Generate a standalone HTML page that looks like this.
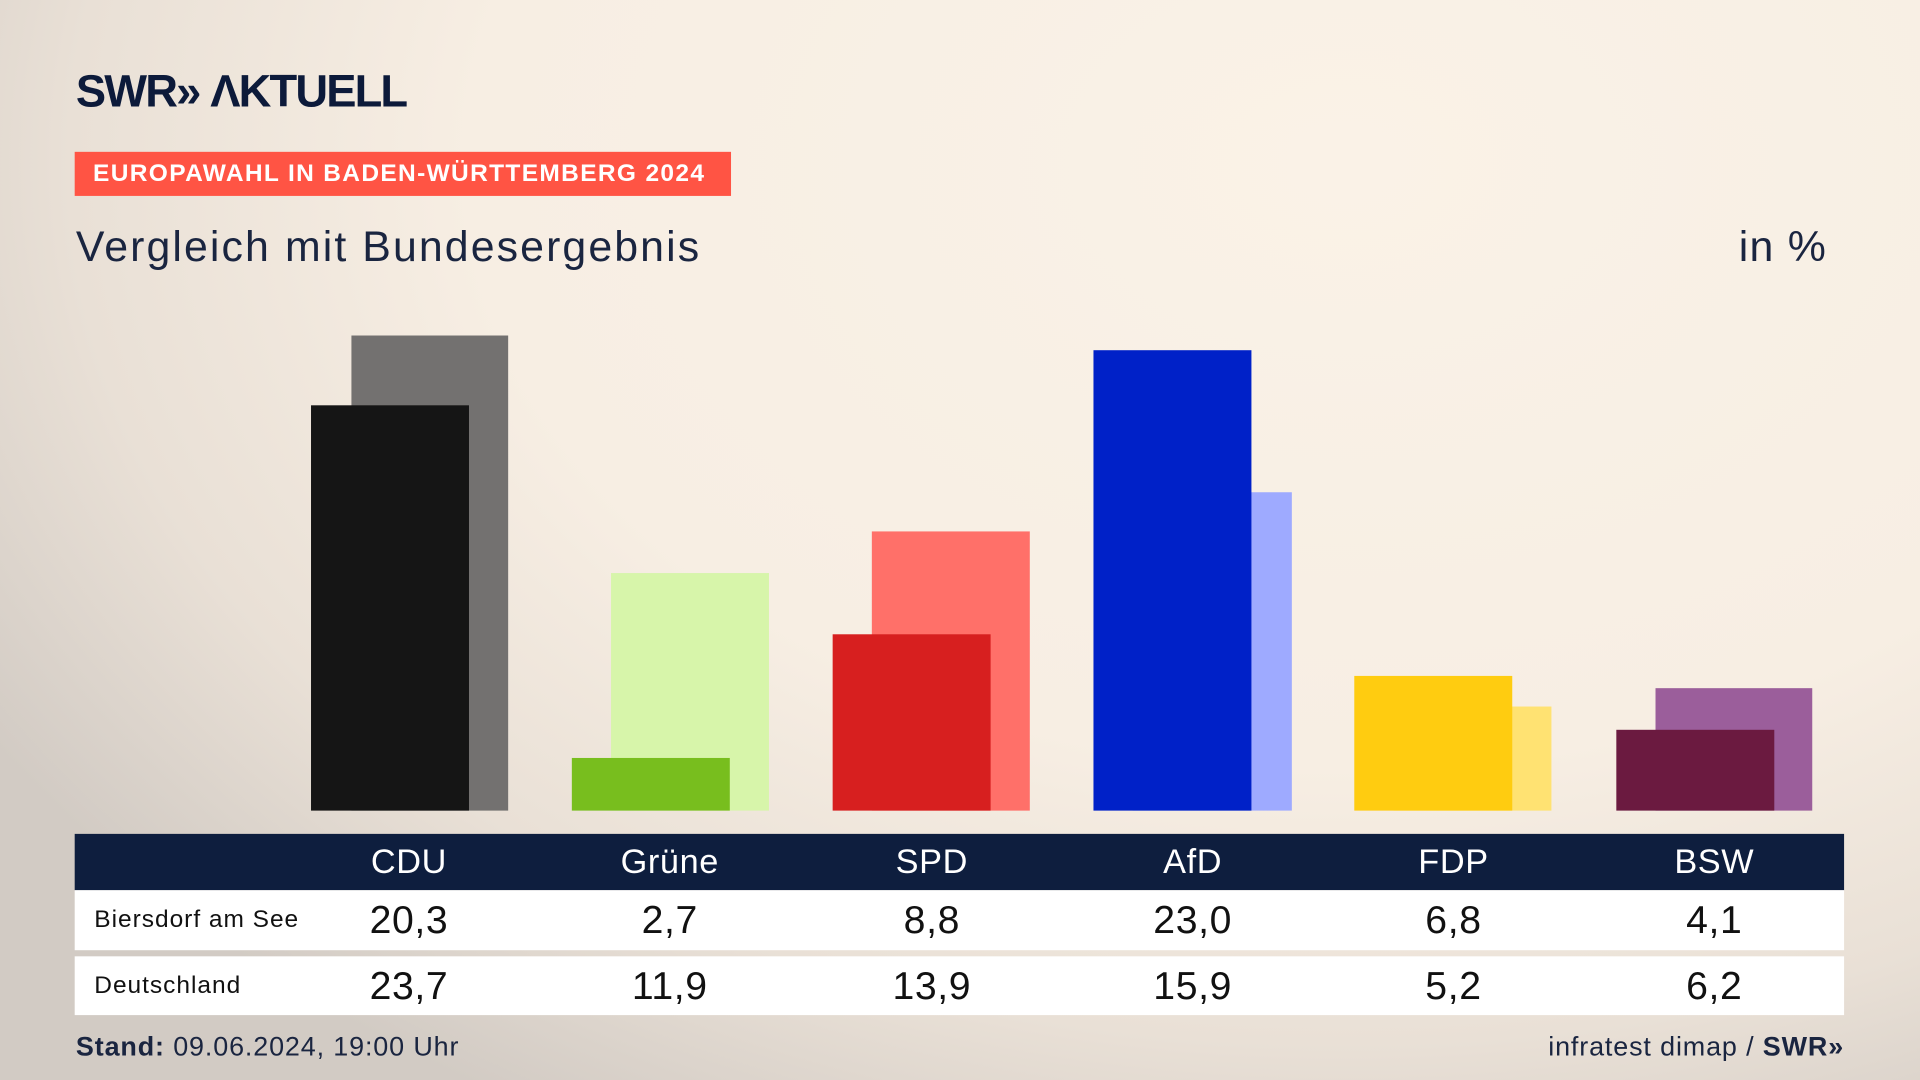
<!DOCTYPE html>
<html><head><meta charset="utf-8"><style>
html,body{margin:0;padding:0;width:1920px;height:1080px;overflow:hidden}
#w{position:absolute;left:0;top:0;width:1568px;height:882px;transform:scale(1.22449);transform-origin:0 0;
background:radial-gradient(ellipse 1300px 900px at 70% 15%,#faf2e7 0%,#f7eee3 55%,#e9e0d6 80%,#d2cbc4 100%);
font-family:"Liberation Sans","DejaVu Sans",sans-serif;color:#0e1e3e}
.a{position:absolute}
.hl{position:absolute;top:681px;height:46px;line-height:46px;color:#fff;font-size:28px;width:200px;text-align:center;letter-spacing:0.5px}
.v{position:absolute;width:200px;text-align:center;font-size:32px;color:#111;letter-spacing:0.5px}
</style></head><body><div id="w">
<div class="a" style="left:62px;top:54px;font-size:37px;font-weight:bold;letter-spacing:-1.5px;color:#0c1a3a">SWR» ΛKTUELL</div>
<div class="a" style="left:61px;top:124px;width:536px;height:36px;background:#ff5444;color:#fff;font-weight:bold;font-size:20px;line-height:37px;text-indent:15px;letter-spacing:1.1px">EUROPAWAHL IN BADEN-WÜRTTEMBERG 2024</div>
<div class="a" style="left:62px;top:182px;font-size:35px;color:#1a2540;letter-spacing:1.7px">Vergleich mit Bundesergebnis</div>
<div class="a" style="left:1420px;top:182px;font-size:35px;color:#1a2540;letter-spacing:1px">in %</div>

<div class="a" style="left:287px;top:274px;width:128px;height:388px;background:#737170"></div>
<div class="a" style="left:254px;top:331px;width:129px;height:331px;background:#151515"></div>
<div class="a" style="left:499px;top:468px;width:129px;height:194px;background:#d7f5aa"></div>
<div class="a" style="left:467px;top:619px;width:129px;height:43px;background:#78be1e"></div>
<div class="a" style="left:712px;top:434px;width:129px;height:228px;background:#ff7069"></div>
<div class="a" style="left:680px;top:518px;width:129px;height:144px;background:#d71f1f"></div>
<div class="a" style="left:925px;top:402px;width:130px;height:260px;background:#9eaaff"></div>
<div class="a" style="left:893px;top:286px;width:129px;height:376px;background:#0021c8"></div>
<div class="a" style="left:1138px;top:577px;width:129px;height:85px;background:#ffe272"></div>
<div class="a" style="left:1106px;top:552px;width:129px;height:110px;background:#ffcc10"></div>
<div class="a" style="left:1352px;top:562px;width:128px;height:100px;background:#9b5e9b"></div>
<div class="a" style="left:1320px;top:596px;width:129px;height:66px;background:#6b1a40"></div>

<div class="a" style="left:61px;top:681px;width:1445px;height:46px;background:#0e1e3e"></div>
<div class="a" style="left:61px;top:727px;width:1445px;height:49px;background:#fff"></div>
<div class="a" style="left:61px;top:781px;width:1445px;height:48px;background:#fff"></div>
<div class="hl" style="left:234px">CDU</div><div class="hl" style="left:447px">Grüne</div><div class="hl" style="left:661px">SPD</div><div class="hl" style="left:874px">AfD</div><div class="hl" style="left:1087px">FDP</div><div class="hl" style="left:1300px">BSW</div>
<div class="a" style="left:77px;top:740px;font-size:20px;color:#111;letter-spacing:0.8px">Biersdorf am See</div>
<div class="a" style="left:77px;top:794px;font-size:20px;color:#111;letter-spacing:0.8px">Deutschland</div>
<div class="v" style="left:234px;top:733px">20,3</div><div class="v" style="left:447px;top:733px">2,7</div><div class="v" style="left:661px;top:733px">8,8</div><div class="v" style="left:874px;top:733px">23,0</div><div class="v" style="left:1087px;top:733px">6,8</div><div class="v" style="left:1300px;top:733px">4,1</div>
<div class="v" style="left:234px;top:787px">23,7</div><div class="v" style="left:447px;top:787px">11,9</div><div class="v" style="left:661px;top:787px">13,9</div><div class="v" style="left:874px;top:787px">15,9</div><div class="v" style="left:1087px;top:787px">5,2</div><div class="v" style="left:1300px;top:787px">6,2</div>
<div class="a" style="left:62px;top:842px;font-size:22px;color:#1a2540;letter-spacing:0.7px"><b>Stand:</b> 09.06.2024, 19:00 Uhr</div>
<div class="a" style="right:62px;top:842px;font-size:22px;color:#1a2540;letter-spacing:0.7px">infratest dimap / <b>SWR»</b></div>
</div></body></html>
